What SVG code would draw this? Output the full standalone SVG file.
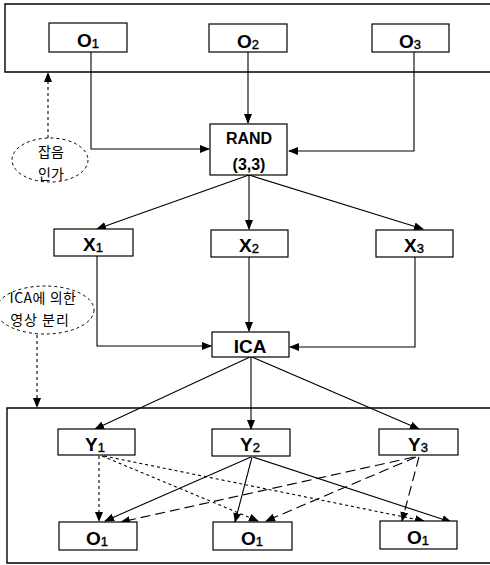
<svg xmlns="http://www.w3.org/2000/svg" width="490" height="565" viewBox="0 0 490 565">
<style>
.box{fill:#fff;stroke:#000;stroke-width:1.2}
.lbl{font-family:"Liberation Sans",Arial,sans-serif;font-weight:bold;font-size:19px;text-anchor:middle;fill:#000}
.sub{font-size:13px;font-weight:normal;stroke:#000;stroke-width:0.4}
.kr{font-family:"Noto Sans CJK KR",sans-serif;font-size:14px;text-anchor:middle;fill:#000}
.ln{fill:none;stroke:#000;stroke-width:1.1}
.dot{stroke-dasharray:3,3}
.dash{stroke-dasharray:10,5}
.frame{fill:none;stroke:#000;stroke-width:1.4}
.ell{fill:#fff;stroke:#000;stroke-width:1;stroke-dasharray:3,3}
</style>
<defs>
<marker id="ah" markerUnits="userSpaceOnUse" markerWidth="10" markerHeight="8" refX="9" refY="4" orient="auto">
<path d="M0,0 L10,4 L0,8 Z" fill="#000"/>
</marker>
</defs>
<g id="frames">
<path class="frame" d="M490,4 H5 V72 H490"/>
<path class="frame" d="M490,408 H7 V563 H490"/>
</g>
<g id="connectors">
<path class="ln" d="M91,52 V149 H209" marker-end="url(#ah)"/>
<path class="ln" d="M248,52 V123" marker-end="url(#ah)"/>
<path class="ln" d="M414,52 V151 H289" marker-end="url(#ah)"/>
<path class="ln dot" d="M48,138 V73" marker-end="url(#ah)"/>
<path class="ln" d="M249,175 L97,229" marker-end="url(#ah)"/>
<path class="ln" d="M249,175 V229" marker-end="url(#ah)"/>
<path class="ln" d="M249,175 L423,229" marker-end="url(#ah)"/>
<path class="ln" d="M97,256 V346 H211" marker-end="url(#ah)"/>
<path class="ln" d="M249,257 V331" marker-end="url(#ah)"/>
<path class="ln" d="M415,257 V347 H290" marker-end="url(#ah)"/>
<path class="ln dot" d="M37,335 V407" marker-end="url(#ah)"/>
<path class="ln" d="M250,357 L95,429" marker-end="url(#ah)"/>
<path class="ln" d="M251,357 V429" marker-end="url(#ah)"/>
<path class="ln" d="M252,357 L419,429" marker-end="url(#ah)"/>
<path class="ln dot" d="M99,456 V521" marker-end="url(#ah)"/>
<path class="ln dot" d="M102,456 L258,521" marker-end="url(#ah)"/>
<path class="ln dot" d="M104,456 L424,521" marker-end="url(#ah)"/>
<path class="ln" d="M251,457 L105,521" marker-end="url(#ah)"/>
<path class="ln" d="M252,457 L235,522" marker-end="url(#ah)"/>
<path class="ln" d="M253,457 L451,522" marker-end="url(#ah)"/>
<path class="ln dash" d="M414,457 L121,522" marker-end="url(#ah)"/>
<path class="ln dash" d="M416,457 L266,521" marker-end="url(#ah)"/>
<path class="ln dash" d="M419,457 L402,521" marker-end="url(#ah)"/>
</g>
<g id="O1top"><rect class="box" x="49" y="23" width="78" height="29"/><text class="lbl" x="88" y="47">O<tspan class="sub" dy="1">1</tspan></text></g>
<g id="O2top"><rect class="box" x="209" y="24" width="78" height="28"/><text class="lbl" x="248" y="48">O<tspan class="sub" dy="1">2</tspan></text></g>
<g id="O3top"><rect class="box" x="372" y="24" width="77" height="28"/><text class="lbl" x="410" y="48">O<tspan class="sub" dy="1">3</tspan></text></g>
<g id="noise"><ellipse class="ell" cx="50" cy="160" rx="38" ry="22"/><text class="kr" x="51" y="157">잡음</text><text class="kr" x="51" y="179">인가</text></g>
<g id="RAND"><rect class="box" x="210" y="124" width="77" height="51"/><text class="lbl" x="249" y="144" style="font-size:16px">RAND</text><text class="lbl" x="249" y="170" style="font-size:16px">(3,3)</text></g>
<g id="X1"><rect class="box" x="54" y="229" width="79" height="27"/><text class="lbl" x="93" y="251">X<tspan class="sub" dy="1">1</tspan></text></g>
<g id="X2"><rect class="box" x="211" y="230" width="77" height="27"/><text class="lbl" x="249" y="252">X<tspan class="sub" dy="1">2</tspan></text></g>
<g id="X3"><rect class="box" x="376" y="230" width="77" height="27"/><text class="lbl" x="414" y="252">X<tspan class="sub" dy="1">3</tspan></text></g>
<g id="sep"><ellipse class="ell" cx="45" cy="310" rx="49" ry="24"/><text class="kr" x="43" y="303" style="letter-spacing:0.5px">ICA에 의한</text><text class="kr" x="40" y="325" style="letter-spacing:1px">영상 분리</text></g>
<g id="ICA"><rect class="box" x="212" y="332" width="77" height="25"/><text class="lbl" x="250" y="353">ICA</text></g>
<g id="Y1"><rect class="box" x="58" y="429" width="77" height="26"/><text class="lbl" x="95" y="451">Y<tspan class="sub" dy="1">1</tspan></text></g>
<g id="Y2"><rect class="box" x="212" y="429" width="78" height="27"/><text class="lbl" x="250" y="451">Y<tspan class="sub" dy="1">2</tspan></text></g>
<g id="Y3"><rect class="box" x="379" y="429" width="79" height="26"/><text class="lbl" x="418" y="451">Y<tspan class="sub" dy="1">3</tspan></text></g>
<g id="O1a"><rect class="box" x="59" y="522" width="78" height="28"/><text class="lbl" x="97" y="545">O<tspan class="sub" dy="1">1</tspan></text></g>
<g id="O1b"><rect class="box" x="213" y="522" width="79" height="28"/><text class="lbl" x="252" y="545">O<tspan class="sub" dy="1">1</tspan></text></g>
<g id="O1c"><rect class="box" x="380" y="521" width="77" height="28"/><text class="lbl" x="418" y="544">O<tspan class="sub" dy="1">1</tspan></text></g>
</svg>
